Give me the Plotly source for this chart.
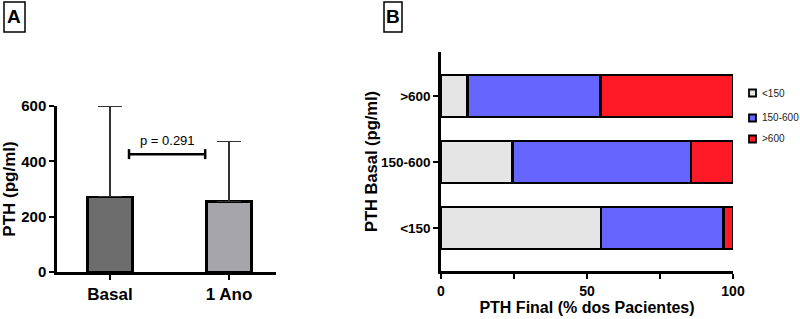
import plotly.graph_objects as go

# ---------------- data ----------------
groups_a = ["Basal", "1 Ano"]
pth_mean = [272, 254]
pth_sd = [328, 217]
p_text = "p = 0.291"

basal_cats = ["<150", "150-600", ">600"]
final_lt150 = [54.8, 24.5, 9.1]
final_150_600 = [41.9, 61.2, 45.5]
final_gt600 = [3.3, 14.3, 45.4]
series_names = ["<150", "150-600", ">600"]
series_colors = ["#e5e5e5", "#6666ff", "#ff1a26"]

W, H = 800, 319
FONT = "Liberation Sans, Arial, Helvetica, sans-serif"


def px_x(p):
    return p / W


def px_y(p):
    return 1 - p / H


fig = go.Figure()

# ---------- panel A ----------
fig.add_trace(go.Bar(
    x=groups_a, y=pth_mean, width=0.378,
    marker=dict(color=["#6d6d6d", "#a5a5aa"], line=dict(color="black", width=2.5)),
    error_y=dict(type="data", symmetric=False, array=pth_sd, arrayminus=[0, 0],
                 color="#333333", thickness=1.3, width=12),
    xaxis="x", yaxis="y", showlegend=False,
))

# ---------- panel B ----------
for name, vals, col in zip(series_names, [final_lt150, final_150_600, final_gt600], series_colors):
    fig.add_trace(go.Bar(
        y=basal_cats, x=vals, orientation="h", width=0.636, name=name,
        marker=dict(color=col, line=dict(color="black", width=2.5)),
        xaxis="x2", yaxis="y2", showlegend=False,
    ))

axis_common = dict(showline=True, linecolor="black", linewidth=2.5, ticks="outside",
                   ticklen=5, tickwidth=2, tickcolor="black", showgrid=False, zeroline=False,
                   mirror=False, automargin=False)

fig.update_layout(
    width=W, height=H, margin=dict(l=0, r=0, t=0, b=0, autoexpand=False),
    plot_bgcolor="white", paper_bgcolor="white",
    barmode="stack", showlegend=False,
    font=dict(family=FONT, color="black"),
    xaxis=dict(domain=[px_x(57), px_x(276)], anchor="y", type="category",
               range=[-0.445, 1.395],
               tickfont=dict(size=17, family=FONT, weight="bold"), **axis_common),
    yaxis=dict(domain=[px_y(272), px_y(106)], anchor="x", range=[0, 600],
               tickvals=[0, 200, 400, 600],
               tickfont=dict(size=15, family=FONT, weight="bold"),
               title=dict(text="PTH (pg/ml)", font=dict(size=17, family=FONT, weight="bold"),
                          standoff=3),
               **axis_common),
    xaxis2=dict(domain=[px_x(441), px_x(733)], anchor="y2", range=[0, 100],
                tickvals=[0, 25, 50, 75, 100], ticktext=["0", "", "50", "", "100"],
                tickfont=dict(size=14, family=FONT, weight="bold"),
                title=dict(text="PTH Final (% dos Pacientes)",
                           font=dict(size=16, family=FONT, weight="bold"), standoff=4),
                **axis_common),
    yaxis2=dict(domain=[px_y(271), px_y(52)], anchor="x2", type="category",
                categoryorder="array", categoryarray=basal_cats,
                range=[-0.65, 2.667],
                tickfont=dict(size=13.5, family=FONT, weight="bold"),
                title=dict(text="PTH Basal (pg/ml)", font=dict(size=16.5, family=FONT, weight="bold"),
                           standoff=0),
                **axis_common),
)

# legend (panel B), drawn as key squares with labels
legend_y = [93, 118, 139]
for name, col, ly in zip(series_names, series_colors, legend_y):
    fig.add_shape(type="rect", xref="paper", yref="paper",
                  x0=px_x(749), x1=px_x(756), y0=px_y(ly + 3.5), y1=px_y(ly - 3.5),
                  fillcolor=col, line=dict(color="black", width=1.8))
    fig.add_annotation(x=px_x(761), y=px_y(ly), xref="paper", yref="paper", text=name,
                       showarrow=False, xanchor="left", yanchor="middle", borderpad=0,
                       font=dict(size=10, family=FONT, color="#222222"))

# p-value bracket (panel A)
bx0, bx1, by = 0.16, 0.80, 426
for sh in [
    dict(x0=bx0, x1=bx1, y0=by, y1=by),
    dict(x0=bx0, x1=bx0, y0=by - 18, y1=by + 18),
    dict(x0=bx1, x1=bx1, y0=by - 18, y1=by + 18),
]:
    fig.add_shape(type="line", xref="x", yref="y", line=dict(color="black", width=2.5), **sh)
fig.add_annotation(x=(bx0 + bx1) / 2, y=by + 14, xref="x", yref="y", text=p_text,
                   showarrow=False, yanchor="bottom", font=dict(size=13, family=FONT, color="black"))

# panel letters
for letter, x0, x1 in [("A", 4, 25), ("B", 384, 402)]:
    fig.add_shape(type="rect", xref="paper", yref="paper",
                  x0=px_x(x0), x1=px_x(x1), y0=px_y(32), y1=px_y(2),
                  line=dict(color="black", width=1.5))
    fig.add_annotation(x=px_x((x0 + x1) / 2), y=px_y(17), xref="paper", yref="paper",
                       text=letter, showarrow=False, xanchor="center", yanchor="middle",
                       font=dict(size=19, family=FONT, weight="bold", color="black"))

fig.write_html("out.html", config={"displayModeBar": False},
               post_script="document.body.style.margin='0';document.body.style.overflow='hidden';")
